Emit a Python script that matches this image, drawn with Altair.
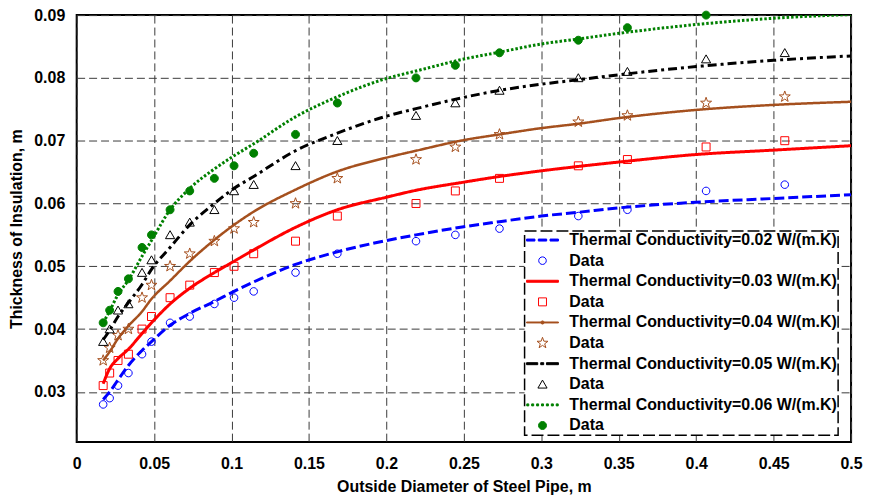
import altair as alt
import pandas as pd

# ---------------- data ----------------
# outside diameters of the measured pipes (m)
data_x = [0.0171, 0.0213, 0.0267, 0.0334, 0.0422, 0.0483, 0.0603, 0.0730, 0.0889, 0.1016,
          0.1143, 0.1413, 0.1683, 0.2191, 0.2445, 0.2730, 0.3239, 0.3556, 0.4064, 0.4572]
data_k002 = [0.028, 0.029, 0.031, 0.033, 0.036, 0.038, 0.041, 0.042, 0.044, 0.045,
             0.046, 0.049, 0.052, 0.054, 0.055, 0.056, 0.058, 0.059, 0.062, 0.063]
data_k003 = [0.031, 0.033, 0.035, 0.036, 0.040, 0.042, 0.045, 0.047, 0.049, 0.050,
             0.052, 0.054, 0.058, 0.060, 0.062, 0.064, 0.066, 0.067, 0.069, 0.070]
data_k004 = [0.035, 0.037, 0.039, 0.040, 0.045, 0.047, 0.050, 0.052, 0.054, 0.056,
             0.057, 0.060, 0.064, 0.067, 0.069, 0.071, 0.073, 0.074, 0.076, 0.077]
data_k005 = [0.038, 0.040, 0.043, 0.044, 0.049, 0.051, 0.055, 0.057, 0.059, 0.062,
             0.063, 0.066, 0.070, 0.074, 0.076, 0.078, 0.080, 0.081, 0.083, 0.084]
data_k006 = [0.041, 0.043, 0.046, 0.048, 0.053, 0.055, 0.059, 0.062, 0.064, 0.066,
             0.068, 0.071, 0.076, 0.080, 0.082, 0.084, 0.086, 0.088, 0.090]

# model curves
curve_x = [0.0171, 0.0213, 0.0267, 0.0334, 0.0422, 0.0483, 0.0603, 0.0730, 0.0889, 0.1016,
           0.1143, 0.1413, 0.1683, 0.2000, 0.2191, 0.2500, 0.2730, 0.3000, 0.3239, 0.3500,
           0.4000, 0.4500, 0.5000]
curve_k002 = [0.0288, 0.0300, 0.0319, 0.0342, 0.0366, 0.0380, 0.0406, 0.0425, 0.0444, 0.0460,
              0.0475, 0.0503, 0.0523, 0.0541, 0.0550, 0.0563, 0.0571, 0.0580, 0.0586, 0.0593,
              0.0602, 0.0608, 0.0614]
curve_k003 = [0.0313, 0.0337, 0.0353, 0.0368, 0.0393, 0.0410, 0.0440, 0.0465, 0.0490, 0.0508,
              0.0526, 0.0562, 0.0590, 0.0610, 0.0621, 0.0634, 0.0643, 0.0652, 0.0659, 0.0666,
              0.0678, 0.0685, 0.0692]
curve_k004 = [0.0350, 0.0364, 0.0385, 0.0405, 0.0428, 0.0448, 0.0477, 0.0508, 0.0542, 0.0566,
              0.0587, 0.0622, 0.0651, 0.0673, 0.0684, 0.0701, 0.0710, 0.0720, 0.0727, 0.0736,
              0.0749, 0.0757, 0.0762]
curve_k005 = [0.0383, 0.0398, 0.0420, 0.0442, 0.0471, 0.0495, 0.0530, 0.0566, 0.0600, 0.0624,
              0.0643, 0.0684, 0.0712, 0.0739, 0.0751, 0.0769, 0.0780, 0.0790, 0.0797, 0.0805,
              0.0818, 0.0828, 0.0835]
curve_k006 = [0.0410, 0.0429, 0.0455, 0.0478, 0.0516, 0.0541, 0.0590, 0.0624, 0.0655, 0.0676,
              0.0695, 0.0738, 0.0770, 0.0799, 0.0811, 0.0830, 0.0841, 0.0854, 0.0862, 0.0871,
              0.0885, 0.0895, 0.0901]

line_names = ["Thermal Conductivity=0.02 W/(m.K)", "Thermal Conductivity=0.03 W/(m.K)",
              "Thermal Conductivity=0.04 W/(m.K)", "Thermal Conductivity=0.05 W/(m.K)",
              "Thermal Conductivity=0.06 W/(m.K)"]
data_names = ["Data 1", "Data 2", "Data 3", "Data 4", "Data 5"]
colors = ["#0000FF", "#FF0000", "#A5501E", "#000000", "#008000"]

x_ticks = [0, 0.05, 0.1, 0.15, 0.2, 0.25, 0.3, 0.35, 0.4, 0.45, 0.5]
y_ticks = [0.03, 0.04, 0.05, 0.06, 0.07, 0.08, 0.09]

# ---------------- styles ----------------
FONT = "Liberation Sans"
line_dash = [[10, 4], [1, 0], [1, 0], [9, 4, 3, 4], [2.5, 2]]
line_width = [3, 3, 2.5, 3, 3]

# legend / marker symbols (unit = sqrt(size)/2 px)
circle = "M-0.95,0A0.95,0.95,0,1,1,0.95,0A0.95,0.95,0,1,1,-0.95,0Z"
square = "M-1,-1H1V1H-1Z"
triangle = "M0,-1.05L1.15,0.95L-1.15,0.95Z"
star = ("M0,-1.45L0.34,-0.47L1.379,-0.448L0.55,0.18L0.852,1.173L0,0.58"
        "L-0.852,1.173L-0.55,0.18L-1.379,-0.448L-0.34,-0.47Z")
dot_circle = "M-1,0A1,1,0,1,1,1,0A1,1,0,1,1,-1,0Z"
sym_dash = "M-4,-0.25H-1.9V0.25H-4Z M-1.05,-0.25H1.05V0.25H-1.05Z M1.9,-0.25H4V0.25H1.9Z"
sym_solid = "M-4,-0.25H4V0.25H-4Z"
sym_dotline = ("M-4,-0.12H4V0.12H-4Z "
               "M-0.4,0A0.4,0.4,0,1,1,0.4,0A0.4,0.4,0,1,1,-0.4,0Z")
sym_dashdot = "M-4,-0.25H-1.2V0.25H-4Z M-0.45,-0.25H0.3V0.25H-0.45Z M1,-0.25H4V0.25H1Z"
sym_dotted = " ".join(
    f"M{c - 0.25:.2f},-0.25H{c + 0.25:.2f}V0.25H{c - 0.25:.2f}Z"
    for c in [-3.7, -2.47, -1.23, 0, 1.23, 2.47, 3.7]
)

keys, strokes, fills, shapes = [], [], [], []
line_syms = [sym_dash, sym_solid, sym_dotline, sym_dashdot, sym_dotted]
mark_syms = [circle, square, star, triangle, dot_circle]
mark_fill = ["transparent", "transparent", "transparent", "transparent", "#008000"]
for i in range(5):
    keys += [line_names[i], data_names[i]]
    strokes += [colors[i], colors[i]]
    fills += [colors[i], mark_fill[i]]
    shapes += [line_syms[i], mark_syms[i]]

# ---------------- tables ----------------
pts_rows = []
for name, ys in zip(data_names, [data_k002, data_k003, data_k004, data_k005, data_k006]):
    for xv, yv in zip(data_x, ys):
        pts_rows.append({"d": xv, "t": yv, "series": name})
pts_df = pd.DataFrame(pts_rows)

curves = [curve_k002, curve_k003, curve_k004, curve_k005, curve_k006]

xscale = alt.Scale(domain=[0, 0.5], nice=False, zero=False)
yscale = alt.Scale(domain=[0.022, 0.09], nice=False, zero=False)
xaxis = alt.Axis(values=x_ticks, format=".2~f", title="Outside Diameter of Steel Pipe, m",
                 labelPadding=14, titlePadding=7, labelFlush=False, labelOverlap=False)
yaxis = alt.Axis(values=y_ticks, format=".2~f", title="Thickness of Insulation, m",
                 labelPadding=12, titlePadding=9, labelFlush=False, labelOverlap=False)

layers = []
for i in range(5):
    df = pd.DataFrame({"d": curve_x, "t": curves[i]})
    layers.append(
        alt.Chart(df).mark_line(color=colors[i], strokeWidth=line_width[i],
                                strokeDash=line_dash[i], interpolate="monotone", clip=True)
        .encode(x=alt.X("d:Q", scale=xscale, axis=xaxis),
                y=alt.Y("t:Q", scale=yscale, axis=yaxis))
    )

leg = dict(title=None, orient="none", legendX=450, legendY=217,
           labelFont=FONT, labelFontSize=16, labelFontWeight="bold", labelColor="black",
           labelLimit=500, labelOffset=19, symbolOffset=9, symbolSize=64,
           symbolStrokeWidth=1, rowPadding=4.7, padding=1,
           strokeColor="black", fillColor="white",
           labelExpr="indexof(datum.label, 'Data') == 0 ? 'Data' : datum.label")

pts = alt.Chart(pts_df).mark_point(size=64, strokeWidth=1, opacity=1, clip=False).encode(
    x=alt.X("d:Q", scale=xscale, axis=xaxis),
    y=alt.Y("t:Q", scale=yscale, axis=yaxis),
    stroke=alt.Stroke("series:N", scale=alt.Scale(domain=keys, range=strokes), legend=alt.Legend(**leg)),
    fill=alt.Fill("series:N", scale=alt.Scale(domain=keys, range=fills), legend=alt.Legend(**leg)),
    shape=alt.Shape("series:N", scale=alt.Scale(domain=keys, range=shapes), legend=alt.Legend(**leg)),
)

chart = (
    alt.layer(*layers, pts)
    .properties(width=778, height=429,
                padding={"left": 69, "top": 6, "right": 12, "bottom": 53},
                autosize=alt.AutoSizeParams(type="none"))
    .configure_view(stroke="black", strokeWidth=2)
    .configure_axis(labelFont=FONT, labelFontSize=16, labelFontWeight="bold", labelColor="black",
                    titleFont=FONT, titleFontSize=16, titleFontWeight="bold", titleColor="black",
                    domain=False, ticks=False, grid=True, gridColor="#3a3a3a",
                    gridDash=[8, 4], gridWidth=1, gridOpacity=1)
    .configure_legend(symbolFillColor="transparent", symbolStrokeColor="black",
                      strokeDash=[12, 4], strokeWidth=1.5)
)

chart.save("out.html", embed_options={"renderer": "svg", "actions": False})
